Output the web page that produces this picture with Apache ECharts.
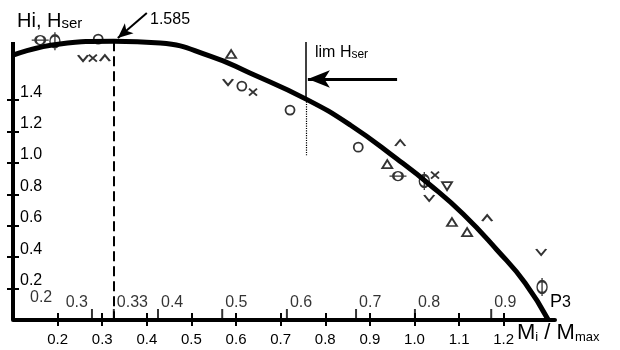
<!DOCTYPE html>
<html>
<head>
<meta charset="utf-8">
<script src="https://cdn.jsdelivr.net/npm/echarts@6/dist/echarts.min.js"></script>
<style>html,body{margin:0;padding:0;background:#fff}#c{width:620px;height:350px}</style>
</head>
<body>
<div id="c"></div>
<script>
// ---- data ----
const curveX = [0.100, 0.201, 0.326, 0.430, 0.542, 0.631, 0.757, 0.856, 0.961, 1.035, 1.109, 1.185, 1.248, 1.300];
const curveY = [1.687, 1.757, 1.776, 1.764, 1.681, 1.573, 1.407, 1.242, 1.025, 0.860, 0.675, 0.446, 0.236, 0.0];

const circlePts = [[0.291, 1.789], [0.613, 1.490], [0.721, 1.337], [0.874, 1.101]];
const trianglePts = [[0.589, 1.694], [0.939, 0.993], [1.084, 0.624], [1.118, 0.560]];
const triangleDownPts = [[1.073, 0.853]];
const crossPts = [[0.279, 1.668], [0.638, 1.452], [1.046, 0.923]];
const vPts = [[0.257, 1.668], [0.582, 1.515], [1.033, 0.777], [1.284, 0.433]];
const caretPts = [[0.306, 1.668], [0.968, 1.127], [1.163, 0.649]];
const phiPts = [[0.194, 1.776], [1.022, 0.885], [1.286, 0.210]];
const thetaPts = [[0.161, 1.783], [0.963, 0.917]];

const bottomTicks = [0.2, 0.3, 0.4, 0.5, 0.6, 0.7, 0.8, 0.9, 1.0, 1.1, 1.2];
const yTicks = [0.2, 0.4, 0.6, 0.8, 1.0, 1.2, 1.4];
const upperTickPos = [0.277, 0.326, 0.425, 0.569, 0.714, 0.869, 1.001, 1.172];
const upperTickLabels = ['0.3', '0.33', '0.4', '0.5', '0.6', '0.7', '0.8', '0.9'];
const upperFirstLabel = '0.2';
const upperFirstPos = 0.163;

const yAxisTop = 1.77;
const peakX = 0.326, peakY = 1.776;
const limX = 0.757, limTopY = 1.77, limCurveY = 1.407, limBottomY = 1.05;
const limArrowY = 1.535, limArrowFromX = 0.961, limArrowToX = 0.761;
const peakArrowFrom = [0.400, 1.955], peakArrowTo = [0.335, 1.796];

// ---- chart ----
const FF = '"Liberation Sans", Arial, sans-serif';
const chart = echarts.init(document.getElementById('c'), null, {renderer: 'canvas'});
const xMin = 0.1, xMax = 1.315, yMin = 0, yMax = 2.0;

function pathSymbolSeries(name, pts, symbol, size) {
  return {
    name, type: 'scatter', data: pts, symbol, symbolSize: size, clip: false, z: 5,
    itemStyle: {color: 'rgba(0,0,0,0)', borderColor: '#000', borderWidth: 1.8},
    emphasis: {disabled: true}
  };
}

const upperData = [{value: [upperFirstPos, 0], symbolSize: 0,
  label: {show: true, position: 'inside', offset: [0, -17], formatter: upperFirstLabel}}];
upperTickPos.forEach((p, i) => {
  upperData.push({value: [p, 0],
    label: {show: true, position: i === 0 ? 'left' : 'right', distance: i === 0 ? 3 : 2,
      offset: [0, -12], formatter: upperTickLabels[i]}});
});

const option = {
  animation: false,
  backgroundColor: '#fff',
  grid: {left: 13, right: 65, top: 6, bottom: 30, containLabel: false},
  xAxis: [{
    type: 'value', min: xMin, max: xMax, position: 'bottom',
    axisLine: {lineStyle: {color: '#000', width: 4}},
    axisTick: {customValues: bottomTicks, length: 6, lineStyle: {color: '#000', width: 2}},
    axisLabel: {customValues: bottomTicks, formatter: v => v.toFixed(1), fontSize: 15, color: '#000', margin: 12, fontFamily: FF},
    splitLine: {show: false}
  }, {
    type: 'value', min: xMin, max: xMax, position: 'bottom',
    axisLine: {show: false},
    axisTick: {customValues: bottomTicks, inside: true, length: 7, lineStyle: {color: '#000', width: 2}},
    axisLabel: {show: false}, splitLine: {show: false}
  }],
  yAxis: [{
    type: 'value', min: yMin, max: yMax, position: 'left',
    axisLine: {show: false},
    axisTick: {customValues: yTicks, length: 6, lineStyle: {color: '#000', width: 2}},
    axisLabel: {customValues: yTicks, inside: true, margin: 7, formatter: v => v.toFixed(1), fontSize: 16,
      color: '#000', verticalAlign: 'bottom', lineHeight: 16, fontFamily: FF},
    splitLine: {show: false}
  }, {
    type: 'value', min: yMin, max: yMax, position: 'left',
    axisLine: {show: false},
    axisTick: {customValues: yTicks, inside: true, length: 6, lineStyle: {color: '#000', width: 2}},
    axisLabel: {show: false}, splitLine: {show: false}
  }],
  series: [{
    name: 'curve', type: 'line', smooth: 0.5, symbol: 'none', clip: false, z: 3,
    data: curveX.map((x, i) => [x, curveY[i]]),
    lineStyle: {color: '#000', width: 5},
    markLine: {
      silent: true, symbol: ['none', 'none'], animation: false,
      label: {show: false},
      data: [
        [{coord: [xMin, 0], lineStyle: {type: 'solid', width: 4, color: '#000'}}, {coord: [xMin, yAxisTop]}],
        [{coord: [peakX, peakY], lineStyle: {type: [10, 5], width: 2, color: '#000'}}, {coord: [peakX, 0]}],
        [{coord: [limX, limTopY], lineStyle: {type: 'solid', width: 1.5, color: '#000'}}, {coord: [limX, limCurveY]}],
        [{coord: [limX, limCurveY], lineStyle: {type: 'dotted', width: 1.2, color: '#000'}}, {coord: [limX, limBottomY]}],
        [{coord: [limArrowFromX, limArrowY], symbol: 'none', lineStyle: {type: 'solid', width: 3, color: '#000'}},
         {coord: [limArrowToX, limArrowY], symbol: 'arrow', symbolSize: [13, 22]}],
        [{coord: peakArrowFrom, symbol: 'none', lineStyle: {type: 'solid', width: 2, color: '#000'}},
         {coord: peakArrowTo, symbol: 'arrow', symbolSize: [10, 15]}]
      ]
    }
  },
  pathSymbolSeries('o', circlePts, 'path://M5,0A5,5,0,1,1,5,10A5,5,0,1,1,5,0Z', 9),
  pathSymbolSeries('tri', trianglePts, 'path://M5,0L10,9L0,9Z', [10, 8]),
  pathSymbolSeries('triDown', triangleDownPts, 'path://M0,0L10,0L5,9Z', [10, 8]),
  pathSymbolSeries('x', crossPts, 'path://M0,0L8,8M8,0L0,8', [8, 7]),
  pathSymbolSeries('v', vPts, 'path://M0,0L5,6L10,0', [10, 6]),
  pathSymbolSeries('caret', caretPts, 'path://M0,6L5,0L10,6', [10, 6]),
  pathSymbolSeries('phi', phiPts, 'path://M5,0L5,18M5,3A5,6,0,1,1,5,15A5,6,0,1,1,5,3Z', [10, 18]),
  pathSymbolSeries('theta', thetaPts, 'path://M0,5L18,5M9,0A5,5,0,1,1,9,10A5,5,0,1,1,9,0Z', [17, 9]),
  {
    name: 'upperScale', type: 'scatter', data: upperData, clip: false, z: 4,
    symbol: 'rect', symbolSize: [2, 11], symbolOffset: [0, -5.5],
    itemStyle: {color: '#000'},
    label: {show: true, color: '#000', fontSize: 16, fontFamily: FF},
    emphasis: {disabled: true}
  }],
  graphic: [
    {type: 'text', left: 17, top: 11, style: {text: '{a|Hi, H}{b|ser}', fill: '#000',
      rich: {a: {fontSize: 20, fontFamily: FF, verticalAlign: 'bottom', lineHeight: 21},
             b: {fontSize: 15, fontFamily: FF, verticalAlign: 'bottom', lineHeight: 20}}}},
    {type: 'text', left: 150, top: 12, style: {text: '1.585', fill: '#000', fontSize: 16, fontFamily: FF}},
    {type: 'text', left: 315, top: 45, style: {text: '{a|lim H}{b|ser}', fill: '#000',
      rich: {a: {fontSize: 16, fontFamily: FF, verticalAlign: 'bottom', lineHeight: 17},
             b: {fontSize: 12, fontFamily: FF, verticalAlign: 'bottom', lineHeight: 16}}}},
    {type: 'text', left: 550, top: 293, style: {text: '{a|P}{b|3}', fill: '#000',
      rich: {a: {fontSize: 18, fontFamily: FF, verticalAlign: 'bottom', lineHeight: 19},
             b: {fontSize: 16, fontFamily: FF, verticalAlign: 'bottom', lineHeight: 18}}}},
    {type: 'text', left: 517, top: 322, style: {text: '{a|M}{b|i}{a| / M}{b|max}', fill: '#000',
      rich: {a: {fontSize: 22, fontFamily: FF, verticalAlign: 'bottom', lineHeight: 23},
             b: {fontSize: 13, fontFamily: FF, verticalAlign: 'bottom', lineHeight: 20}}}}
  ]
};
chart.setOption(option);
</script>
</body>
</html>
